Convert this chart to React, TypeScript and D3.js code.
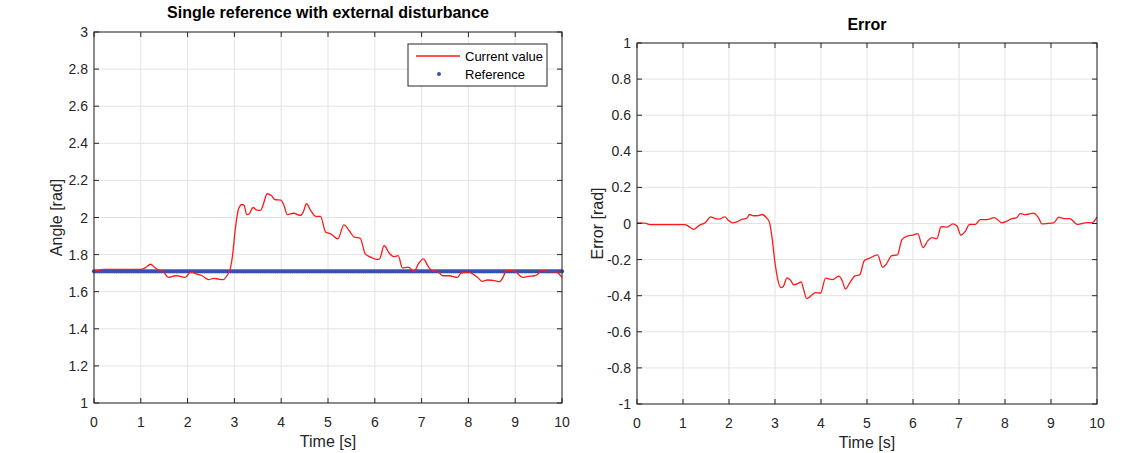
import React from "react";
import * as d3 from "d3";

// ---------- data ----------
const currentTime = [
  0, 0.1, 0.2, 0.5, 0.8, 1.0, 1.1, 1.21, 1.3, 1.38,
  1.48, 1.59, 1.74, 1.84, 1.95, 2.06, 2.2, 2.31, 2.45, 2.56,
  2.66, 2.76, 2.84, 2.91, 2.96, 3.02, 3.09, 3.16, 3.21, 3.26,
  3.31, 3.4, 3.47, 3.56, 3.61, 3.7, 3.79, 3.86, 3.99, 4.06,
  4.13, 4.27, 4.41, 4.47, 4.54, 4.63, 4.74, 4.84, 4.95, 5.06,
  5.21, 5.34, 5.45, 5.56, 5.69, 5.79, 5.91, 6.06, 6.11, 6.2,
  6.31, 6.41, 6.5, 6.59, 6.71, 6.84, 6.93, 7.04, 7.13, 7.22,
  7.34, 7.45, 7.59, 7.77, 7.84, 7.99, 8.09, 8.2, 8.29, 8.41,
  8.56, 8.66, 8.74, 8.81, 8.99, 9.06, 9.16, 9.27, 9.41, 9.49,
  9.56, 9.7, 9.88, 10,
];
const currentAngle = [
  1.71, 1.715, 1.72, 1.72, 1.72, 1.72, 1.73, 1.748, 1.73, 1.717,
  1.708, 1.677, 1.686, 1.683, 1.677, 1.705, 1.695, 1.686, 1.665, 1.672,
  1.668, 1.665, 1.686, 1.722, 1.795, 1.94, 2.047, 2.07, 2.065, 2.016,
  2.018, 2.054, 2.041, 2.038, 2.065, 2.128, 2.119, 2.097, 2.094, 2.065,
  2.016, 2.023, 2.011, 2.029, 2.074, 2.038, 2.006, 2.006, 1.921, 1.912,
  1.885, 1.96, 1.93, 1.894, 1.888, 1.807, 1.786, 1.773, 1.78, 1.849,
  1.807, 1.789, 1.795, 1.728, 1.732, 1.71, 1.75, 1.777, 1.741, 1.714,
  1.71, 1.686, 1.686, 1.677, 1.7, 1.705, 1.696, 1.677, 1.656, 1.663,
  1.66, 1.654, 1.677, 1.714, 1.712, 1.696, 1.677, 1.683, 1.686, 1.696,
  1.714, 1.71, 1.705, 1.677,
];
const referenceAngle = 1.71;
const referenceStep = 0.04;

const errorTime = [
  0, 0.17, 0.28, 0.64, 1.04, 1.13, 1.23, 1.36, 1.49, 1.6,
  1.69, 1.78, 1.91, 1.98, 2.07, 2.17, 2.29, 2.38, 2.45, 2.53,
  2.63, 2.72, 2.81, 2.88, 2.94, 2.99, 3.06, 3.13, 3.18, 3.26,
  3.33, 3.41, 3.51, 3.57, 3.62, 3.69, 3.78, 3.88, 3.99, 4.1,
  4.24, 4.39, 4.46, 4.53, 4.64, 4.75, 4.84, 4.94, 5.05, 5.23,
  5.34, 5.41, 5.54, 5.66, 5.76, 5.88, 6.0, 6.1, 6.22, 6.32,
  6.41, 6.52, 6.61, 6.74, 6.87, 6.96, 7.04, 7.14, 7.23, 7.36,
  7.46, 7.61, 7.77, 7.93, 8.04, 8.15, 8.25, 8.33, 8.44, 8.62,
  8.73, 8.8, 8.91, 9.06, 9.17, 9.28, 9.41, 9.57, 9.67, 9.78,
  9.89, 10,
];
const errorValue = [
  0.003, 0.002, -0.006, -0.006, -0.006, -0.017, -0.033, -0.009, 0.006, 0.037,
  0.028, 0.024, 0.037, 0.02, 0.004, 0.009, 0.024, 0.028, 0.05, 0.043,
  0.044, 0.05, 0.033, 0.006, -0.087, -0.198, -0.309, -0.355, -0.349, -0.301,
  -0.312, -0.34, -0.331, -0.323, -0.364, -0.416, -0.401, -0.383, -0.385, -0.303,
  -0.311, -0.292, -0.316, -0.363, -0.322, -0.289, -0.285, -0.206, -0.193, -0.174,
  -0.243, -0.228, -0.178, -0.174, -0.089, -0.07, -0.064, -0.056, -0.133, -0.096,
  -0.078, -0.084, -0.018, -0.02, -0.002, -0.015, -0.065, -0.042, -0.005, -0.005,
  0.022, 0.022, 0.033, 0.004, 0.013, 0.027, 0.031, 0.055, 0.049, 0.058,
  0.031, -0.002, 0.0, 0.004, 0.035, 0.027, 0.027, -0.005, 0.0, 0.005,
  0.004, 0.035,
];

const timeTicks = [0, 1, 2, 3, 4, 5, 6, 7, 8, 9, 10];
const angleTicks = [1, 1.2, 1.4, 1.6, 1.8, 2, 2.2, 2.4, 2.6, 2.8, 3];
const errorTicks = [-1, -0.8, -0.6, -0.4, -0.2, 0, 0.2, 0.4, 0.6, 0.8, 1];

const leftTitle = "Single reference with external disturbance";
const rightTitle = "Error";
const xLabel = "Time [s]";
const leftYLabel = "Angle [rad]";
const rightYLabel = "Error [rad]";
const legendLabels = ["Current value", "Reference"];

// ---------- styles ----------
const FONT = "'Liberation Sans', Arial, Helvetica, sans-serif";
const AXIS = "#262626";
const GRID = "#e3e3e3";
const RED = "#ff1a1a";
const BLUE = "#3a4fb0";

type PanelProps = {
  left: number; right: number; top: number; bottom: number;
  yDomain: [number, number]; yTicks: number[];
  times: number[]; values: number[];
  title: string; titleY: number; yLabel: string; yLabelX: number;
  reference?: boolean;
};

const fmt = (v: number) => String(+v.toFixed(1));

function Panel(p: PanelProps) {
  const x = d3.scaleLinear().domain([0, 10]).range([p.left, p.right]);
  const y = d3.scaleLinear().domain(p.yDomain).range([p.bottom, p.top]);
  const line = d3.line<number>()
    .x((_, i) => x(p.times[i]))
    .y((v) => y(v))
    .curve(d3.curveMonotoneX);
  const tickLen = 5;
  const refTimes = p.reference ? d3.range(0, 10 + 1e-9, referenceStep) : [];
  const midX = (p.left + p.right) / 2;
  const midY = (p.top + p.bottom) / 2;
  return (
    <g>
      {timeTicks.map((t) => (
        <line key={"gx" + t} x1={x(t)} x2={x(t)} y1={p.top} y2={p.bottom} stroke={GRID} strokeWidth={1} />
      ))}
      {p.yTicks.map((v) => (
        <line key={"gy" + v} x1={p.left} x2={p.right} y1={y(v)} y2={y(v)} stroke={GRID} strokeWidth={1} />
      ))}
      {refTimes.map((t, i) => (
        <circle key={"r" + i} cx={x(t)} cy={y(referenceAngle)} r={2.1} fill={BLUE} />
      ))}
      <path d={line(p.values) || ""} fill="none" stroke={RED} strokeWidth={1.3} />
      <rect x={p.left} y={p.top} width={p.right - p.left} height={p.bottom - p.top} fill="none" stroke={AXIS} strokeWidth={1} />
      {timeTicks.map((t) => (
        <g key={"tx" + t}>
          <line x1={x(t)} x2={x(t)} y1={p.bottom} y2={p.bottom - tickLen} stroke={AXIS} />
          <line x1={x(t)} x2={x(t)} y1={p.top} y2={p.top + tickLen} stroke={AXIS} />
          <text x={x(t)} y={p.bottom + 24} textAnchor="middle" fontSize={14} fill={AXIS} fontFamily={FONT}>{fmt(t)}</text>
        </g>
      ))}
      {p.yTicks.map((v) => (
        <g key={"ty" + v}>
          <line x1={p.left} x2={p.left + tickLen} y1={y(v)} y2={y(v)} stroke={AXIS} />
          <line x1={p.right} x2={p.right - tickLen} y1={y(v)} y2={y(v)} stroke={AXIS} />
          <text x={p.left - 6} y={y(v) + 5} textAnchor="end" fontSize={14} fill={AXIS} fontFamily={FONT}>{fmt(v)}</text>
        </g>
      ))}
      <text x={midX} y={p.titleY} textAnchor="middle" fontSize={16} fontWeight="bold" fill="#000" fontFamily={FONT}>{p.title}</text>
      <text x={midX} y={p.bottom + 44} textAnchor="middle" fontSize={16} fill={AXIS} fontFamily={FONT}>{xLabel}</text>
      <text transform={`translate(${p.yLabelX},${midY}) rotate(-90)`} textAnchor="middle" fontSize={16} fill={AXIS} fontFamily={FONT}>{p.yLabel}</text>
    </g>
  );
}

export default function App() {
  return (
    <svg width={1140} height={453} style={{ position: "absolute", left: 0, top: 0, background: "#fff" }}>
      <rect width={1140} height={453} fill="#fff" />
      <Panel left={94} right={562} top={32} bottom={403}
        yDomain={[1, 3]} yTicks={angleTicks}
        times={currentTime} values={currentAngle}
        title={leftTitle} titleY={18} yLabel={leftYLabel} yLabelX={62}
        reference />
      <Panel left={637} right={1097} top={43} bottom={404}
        yDomain={[-1, 1]} yTicks={errorTicks}
        times={errorTime} values={errorValue}
        title={rightTitle} titleY={30} yLabel={rightYLabel} yLabelX={603} />
      <g fontFamily={FONT} fontSize={13} fill="#000">
        <rect x={408} y={44} width={139} height={42} fill="#fff" stroke={AXIS} strokeWidth={1} />
        <line x1={416} x2={460} y1={56} y2={56} stroke={RED} strokeWidth={1.3} />
        <text x={465} y={60.5}>{legendLabels[0]}</text>
        <circle cx={439} cy={74} r={2} fill={BLUE} />
        <text x={465} y={78.5}>{legendLabels[1]}</text>
      </g>
    </svg>
  );
}
